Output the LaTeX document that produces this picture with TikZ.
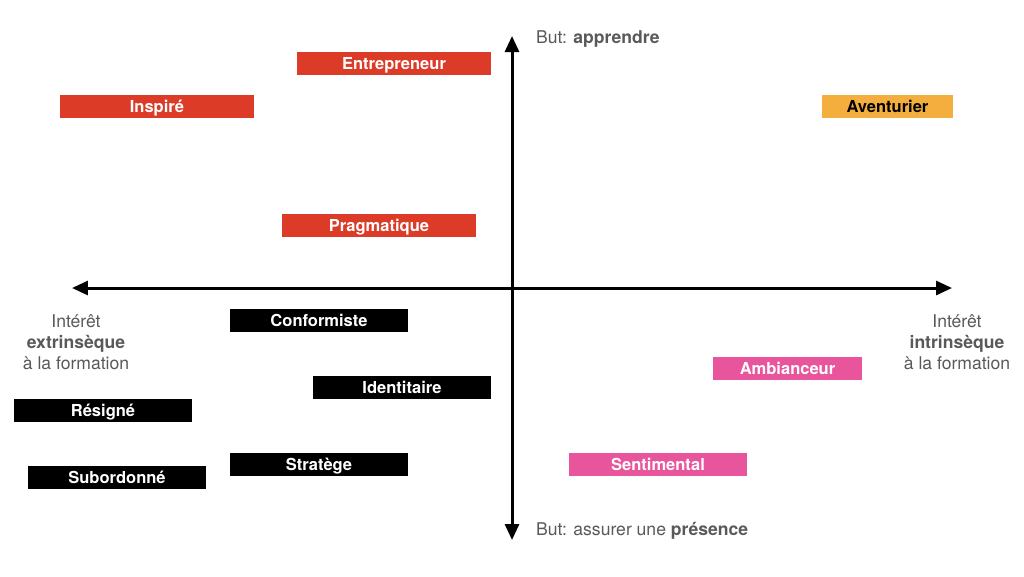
\documentclass[tikz,border=0pt]{standalone}
\usepackage{fontspec}
\setmainfont{TeX Gyre Heros}
\usepackage{tikz}
\usetikzlibrary{positioning, arrows.meta}
\usepackage{xcolor}

\definecolor{rouge}{HTML}{DC3C27}
\definecolor{orange}{HTML}{F3AE3D}
\definecolor{rose}{HTML}{E9559C}
\definecolor{gris}{HTML}{595959}

\begin{document}
\begin{tikzpicture}[
    x=0.02cm, y=-0.02cm,
    profil/.style={inner sep=0pt, minimum height=0.46cm, text height=0.72em, text depth=0pt, text=white, font=\fontsize{9.4}{11}\selectfont\bfseries},
    learn/.style={profil, fill=rouge},
    adv/.style={profil, fill=orange, text=black},
    follow/.style={profil, fill=black},
    social/.style={profil, fill=rose},
    axe/.style={line width=1.7pt, {Triangle[length=0.32cm, width=0.28cm]}-{Triangle[length=0.32cm, width=0.28cm]}},
    legende/.style={text=gris, font=\fontsize{10}{12}\selectfont, align=center}
]
\useasboundingbox (0,0) rectangle (1024,576);

% Axes
\coordinate (top) at (512,36);
\coordinate (bottom) at (512,540);
\coordinate (left) at (72,288);
\coordinate (right) at (952,288);
\draw[axe] (top) -- (bottom);
\draw[axe] (left) -- (right);

% Axis labels
\node[legende, anchor=west] (butA) at (530,39) {But: \textbf{apprendre}};
\node[legende, anchor=west] (butP) at (530,531) {But: assurer une \textbf{présence}};
\node[legende] (extr) at (76,342) {Intérêt\\\textbf{extrinsèque}\\à la formation};
\node[legende] (intr) at (957,342) {Intérêt\\\textbf{intrinsèque}\\à la formation};

% Upper left : red
\node[learn, minimum width=3.88cm] (E) at (394,63.5) {Entrepreneur};
\node[learn, minimum width=3.88cm] (I) at (157,106) {Inspiré};
\node[learn, minimum width=3.88cm] (P) at (379,225) {Pragmatique};

% Upper right
\node[adv, minimum width=2.62cm] (A) at (887.5,106) {Aventurier};

% Lower left : black
\node[follow, minimum width=3.56cm] (C) at (319,320.5) {Conformiste};
\node[follow, minimum width=3.56cm] (Id) at (402,387.5) {Identitaire};
\node[follow, minimum width=3.56cm] (R) at (103,410.5) {Résigné};
\node[follow, minimum width=3.56cm] (St) at (319,464.5) {Stratège};
\node[follow, minimum width=3.56cm] (Su) at (117,477.5) {Subordonné};

% Lower right : pink
\node[social, minimum width=2.98cm] (Am) at (787.5,368.5) {Ambianceur};
\node[social, minimum width=3.56cm] (Se) at (658,464.5) {Sentimental};
\end{tikzpicture}
\end{document}
